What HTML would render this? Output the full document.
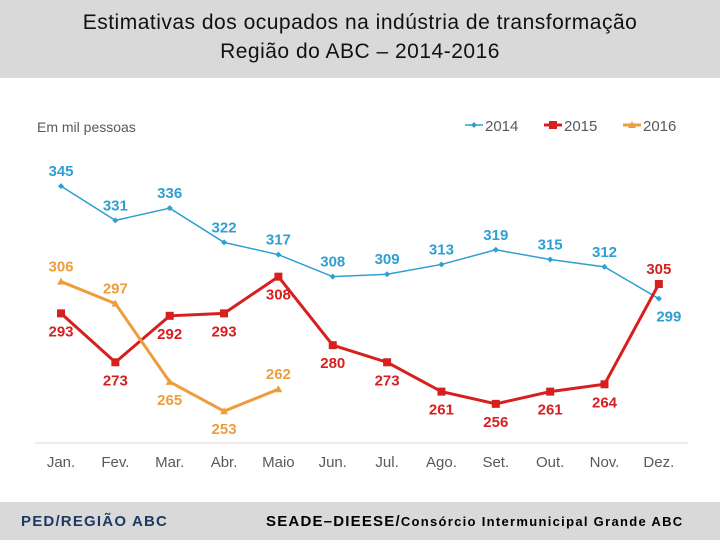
<!DOCTYPE html>
<html><head><meta charset="utf-8"><style>
body{margin:0;width:720px;height:540px;overflow:hidden;background:#fff;font-family:"Liberation Sans",sans-serif}
#hdr{position:absolute;left:0;top:0;width:720px;height:78px;background:#d9d9d9;text-align:center;font-family:"Liberation Sans",sans-serif;font-size:21px;line-height:29px;padding-top:8px;box-sizing:border-box;color:#111;letter-spacing:0.5px}
#ftr{position:absolute;left:0;top:502px;width:720px;height:38px;background:#d9d9d9;font-weight:bold}
</style></head><body>
<div id="hdr">Estimativas dos ocupados na indústria de transformação<br>Região do ABC – 2014-2016</div>
<svg id="c" width="720" height="540" style="position:absolute;left:0;top:0"></svg>
<div id="ftr">
<span style="position:absolute;left:21px;top:11px;font-size:15px;color:#1f3864;letter-spacing:1.2px">PED/REGIÃO ABC</span>
<span style="position:absolute;left:266px;top:11px;font-size:15px;color:#000;letter-spacing:1.2px">SEADE–DIEESE/<span style="font-size:13px;letter-spacing:1.3px">Consórcio Intermunicipal Grande ABC</span></span>
</div>
<script>
const months=["Jan.","Fev.","Mar.","Abr.","Maio","Jun.","Jul.","Ago.","Set.","Out.","Nov.","Dez."];
const s2014=[345,331,336,322,317,308,309,313,319,315,312,299];
const s2015=[293,273,292,293,308,280,273,261,256,261,264,305];
const s2016=[306,297,265,253,262];
const pos2014=["a","a","a","a","a","a","a","a","a","a","a","b"];
const pos2015=["b","b","b","b","b","b","b","b","b","b","b","a"];
const pos2016=["a","a","b","b","a"];
const NS="http://www.w3.org/2000/svg",svg=document.getElementById('c');
const x=i=>61+i*54.35, y=v=>443-(v-240)*2.446;
function el(t,a){const e=document.createElementNS(NS,t);for(const k in a)e.setAttribute(k,a[k]);svg.appendChild(e);return e;}
let g=el('line',{x1:35,x2:688,y1:443,y2:443,stroke:'#d9d9d9','stroke-width':1});


months.forEach((m,i)=>{const t=el('text',{x:x(i),y:467,'text-anchor':'middle','font-size':15,fill:'#595959'});t.textContent=m;

});
let u=el('text',{x:37,y:132,'font-size':14,fill:'#595959'});u.textContent='Em mil pessoas';


function series(d,pos,col,shape,name){
 const p=el('polyline',{points:d.map((v,i)=>x(i)+','+y(v)).join(' '),fill:'none',stroke:col,'stroke-width':shape=='d'?1.5:3});
 
 
 d.forEach((v,i)=>{const cx=x(i),cy=y(v);let m;
  if(shape=='d')m=el('polygon',{points:`${cx},${cy-3} ${cx+3},${cy} ${cx},${cy+3} ${cx-3},${cy}`,fill:col});
  else if(shape=='s')m=el('rect',{x:cx-4,y:cy-4,width:8,height:8,fill:col});
  else m=el('polygon',{points:`${cx},${cy-4} ${cx+4},${cy+3} ${cx-4},${cy+3}`,fill:col});
  
  
  let lx=cx;if(name=='2014'&&i==11)lx=cx+10;
  const t=el('text',{x:lx,y:pos[i]=='a'?cy-10:cy+23,'text-anchor':'middle','font-size':15,'font-weight':'bold',fill:col});t.textContent=v;
  
  });
}
series(s2014,pos2014,'#2f9fd2','d','2014');
series(s2015,pos2015,'#d6201f','s','2015');
series(s2016,pos2016,'#ee9d3d','t','2016');
[['2014','#2f9fd2','d',465],['2015','#d6201f','s',544],['2016','#ee9d3d','t',623]].forEach(([n,c,s,lx])=>{
 el('line',{x1:lx,x2:lx+18,y1:125,y2:125,stroke:c,'stroke-width':s=='d'?1.5:3});
 const cx=lx+9,cy=125;
 if(s=='d')el('polygon',{points:`${cx},${cy-3} ${cx+3},${cy} ${cx},${cy+3} ${cx-3},${cy}`,fill:c});
 else if(s=='s')el('rect',{x:cx-4,y:cy-4,width:8,height:8,fill:c});
 else el('polygon',{points:`${cx},${cy-4} ${cx+4},${cy+3} ${cx-4},${cy+3}`,fill:c});
 const t=el('text',{x:lx+20,y:131,'font-size':15,fill:'#595959'});t.textContent=n;
 
 
});
</script>
</body></html>
